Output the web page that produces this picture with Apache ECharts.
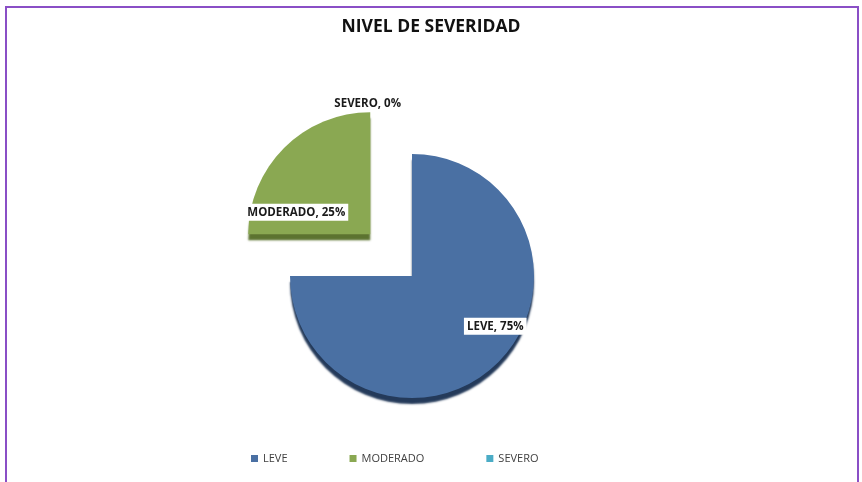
<!DOCTYPE html>
<html>
<head>
<meta charset="utf-8">
<script src="https://cdn.jsdelivr.net/npm/echarts@6/dist/echarts.min.js"></script>
<style>
  html, body { margin: 0; padding: 0; background: #fff; }
  #frame {
    position: absolute; left: 5px; top: 6px; width: 850px; height: 476px;
    border-left: 2px solid #8a4fc6; border-top: 2px solid #8a4fc6; border-right: 2px solid #8a4fc6;
    border-bottom: 1px solid #e4e4e4;
  }
  #main { position: absolute; left: 0; top: 0; width: 862px; height: 482px; }
</style>
</head>
<body>
<div id="frame"></div>
<div id="main"></div>
<script>
const titleText = 'NIVEL DE SEVERIDAD'
const categories = ['LEVE', 'MODERADO', 'SEVERO']
const values = [75, 25, 0]
const colors = ['#4a70a3', '#8aa852', '#4bacc6']
const sideColors = ['#243a5a', '#5c7330', '#2f7a8c']

const chart = echarts.init(document.getElementById('main'))

// label placement per slice (inside boxes for the two real slices)
const labelCfg = [
  { position: 'inside', offset: [38, 5], backgroundColor: '#fff', padding: [3, 3, 2, 3] },
  { position: 'inside', offset: [-13, 39], backgroundColor: '#fff', padding: [3, 3, 2, 3] },
  { position: 'outside', offset: [-11, 14] }
]

chart.setOption({
  backgroundColor: 'transparent',
  color: colors,
  title: {
    text: titleText,
    left: 'center',
    top: 13,
    textStyle: {
      fontFamily: 'Open Sans',
      fontSize: 17.5,
      fontWeight: 'bold',
      color: '#111'
    }
  },
  legend: {
    left: 246,
    top: 448,
    itemWidth: 7,
    itemHeight: 7,
    itemGap: 62,
    icon: 'rect',
    textStyle: {
      fontFamily: 'Open Sans',
      fontSize: 11,
      color: '#404040'
    },
    data: categories
  },
  series: [{
    type: 'pie',
    center: [412, 276],
    radius: 122,
    startAngle: 90,
    clockwise: true,
    selectedMode: 'multiple',
    selectedOffset: 59,
    stillShowZeroSum: true,
    avoidLabelOverlap: false,
    labelLine: { show: false, length: 4, length2: 0 },
    label: {
      formatter: '{b}, {d}%',
      fontFamily: 'Open Sans',
      fontSize: 11.5,
      fontWeight: 'bold',
      color: '#1a1a1a'
    },
    emphasis: { scale: false },
    data: categories.map((name, i) => ({
      name: name,
      value: values[i],
      selected: i > 0,
      label: labelCfg[i],
      select: { label: labelCfg[i] },
      itemStyle: {
        color: colors[i],
        shadowColor: sideColors[i],
        shadowBlur: 2,
        shadowOffsetY: 6
      }
    }))
  }]
})
</script>
</body>
</html>
